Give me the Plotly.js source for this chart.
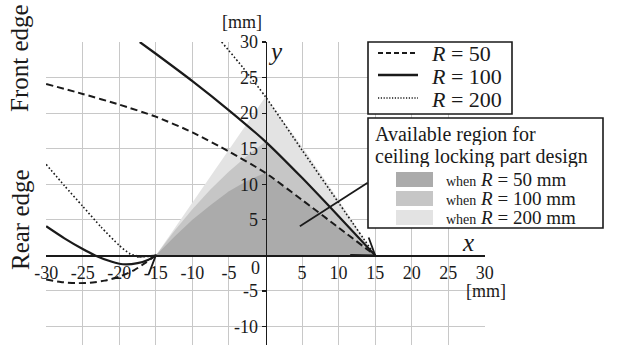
<!DOCTYPE html>
<html>
<head>
<meta charset="utf-8">
<script src="https://cdn.plot.ly/plotly-3.0.1.min.js"></script>
<style>html,body{margin:0;padding:0;background:#fff;}#chart{width:624px;height:348px;}</style>
</head>
<body>
<div id="chart"></div>
<script>
// ---- data ----
const xTickVals = [-30,-25,-20,-15,-10,-5,5,10,15,20,25,30];
const xTickText = ["-30","-25","-20","-15","-10","-5","5","10","15","20","25","30"];
const yTickVals = [-10,-5,5,10,15,20,25,30];
const yTickText = ["-10","-5","5","10","15","20","25","30"];

// front-edge curves
const r50FrontX  = [-30,-25,-20,-15,-10,-5,0,5,10,15];
const r50FrontY  = [24.1,22.7,21.2,19.5,17.3,14.6,11.6,7.8,3.9,0];
const r100FrontX = [-17.2,-15,-10,-5,0,5,10,15];
const r100FrontY = [30,28.35,24.5,20.4,16.0,10.9,5.5,0];
const r200FrontX = [-6.0,-3,0,5,10,15];
const r200FrontY = [30,26.3,22.3,14.8,7.4,0];

// rear-edge curves
const r50RearX  = [-30,-28,-26,-24,-22,-20,-18,-16.5,-15];
const r50RearY  = [-3.4,-3.75,-3.9,-3.85,-3.55,-3.0,-2.1,-1.1,0];
const r100RearX = [-30,-27.5,-25,-23.3,-21,-19.5,-17.5,-16,-15];
const r100RearY = [4.1,2.4,0.9,0,-0.9,-1.25,-1.1,-0.6,0];
const r200RearX = [-30,-27.5,-25,-22.5,-20,-18.5,-16.7,-15];
const r200RearY = [12.8,9.8,6.9,4.0,1.4,0.2,-0.2,0];

// available regions (polygons)
const reg50X  = [-15,-12.5,-10,-7.5,-5,-2.5,0,5,10,15];
const reg50Y  = [0,2.6,5.0,7.1,9.0,10.5,11.6,7.8,3.9,0];
const reg100X = [-15,-12.5,-10,-7.5,-5,-2.5,0,5,10,15];
const reg100Y = [0,3.4,6.5,9.3,11.8,14.0,16.0,10.9,5.5,0];
const reg200X = [-15,-10,-5,0,5,10,15];
const reg200Y = [0,7.4,14.8,22.3,15.3,7.8,0];

const seriesNames = ["R = 50","R = 100","R = 200"];
const regionColors = ["#ababab","#c6c6c6","#e3e3e3"];
const lineColor = "#1a1a1a";
const dash50 = "7px,4px";
const dot200 = "1.6px,2.2px";

// ---- layout geometry ----
const W=624, H=348, ML=46, MR=139, MT=42, MB=3;
const PW=W-ML-MR, PH=H-MT-MB;
const XR=[-30,30], YR=[-12.6,30];
const sx = PW/(XR[1]-XR[0]), sy = PH/(YR[1]-YR[0]);
const px = p => (p-ML)/PW;
const py = p => (H-MB-p)/PH;
const serif = "Liberation Serif";

// arrow barbs computed from curve end direction
function barbs(xs, ys, tipIdx, nbIdx, specs){
  const xt=xs[tipIdx], yt=ys[tipIdx];
  const dx=(xs[nbIdx]-xt)*sx, dy=-(ys[nbIdx]-yt)*sy;
  const a=Math.atan2(dy,dx);
  const bx=[], by=[];
  specs.forEach((s,i)=>{
    const ang=a+s[0]*Math.PI/180;
    const ex=xt+Math.cos(ang)*s[1]/sx, ey=yt-Math.sin(ang)*s[1]/sy;
    if(i===0){bx.push(ex,xt);by.push(ey,yt);} else {bx.push(ex);by.push(ey);}
  });
  return {x:bx,y:by};
}
const bR = barbs(r100FrontX, r100FrontY, r100FrontX.length-1, r100FrontX.length-2, [[-46,25],[23,19]]);
const bL = barbs(r100RearX, r100RearY, r100RearX.length-1, r100RearX.length-2, [[26,19],[-39,20]]);

function region(x,y,c){return {x:x,y:y,type:'scatter',mode:'lines',fill:'toself',fillcolor:c,line:{width:0},hoverinfo:'skip',showlegend:false};}
function curve(x,y,dash,w){return {x:x,y:y,type:'scatter',mode:'lines',line:{color:lineColor,width:w,dash:dash,shape:'spline',smoothing:0.6},showlegend:false,hoverinfo:'skip'};}

const data = [
  region(reg200X,reg200Y,regionColors[2]),
  region(reg100X,reg100Y,regionColors[1]),
  region(reg50X,reg50Y,regionColors[0]),
  curve(r50FrontX,r50FrontY,dash50,2),
  curve(r100FrontX,r100FrontY,'solid',2.2),
  curve(r200FrontX,r200FrontY,dot200,1.6),
  curve(r50RearX,r50RearY,dash50,2),
  curve(r100RearX,r100RearY,'solid',2.2),
  curve(r200RearX,r200RearY,dot200,1.6),
  {x:bR.x,y:bR.y,type:'scatter',mode:'lines',line:{color:lineColor,width:1.8},showlegend:false,hoverinfo:'skip'},
  {x:bL.x,y:bL.y,type:'scatter',mode:'lines',line:{color:lineColor,width:1.8},showlegend:false,hoverinfo:'skip'}
];

function ann(text,x,y,size,opts){
  return Object.assign({text:text,x:px(x),y:py(y),xref:'paper',yref:'paper',showarrow:false,
    font:{family:serif,size:size,color:'#1a1a1a'},xanchor:'center',yanchor:'middle'},opts||{});
}

const annotations = [
  ann('Front edge',20,58,25,{textangle:-90}),
  ann('Rear edge',20,220,25,{textangle:-90}),
  ann('[mm]',242,22,18,{height:18}),
  ann('<i>y</i>',275,52,25),
  ann('<i>x</i>',468,243,25),
  ann('[mm]',486,291,18),
  ann('0',255,268,18),
  // legend 1
  ann('<i>R</i> = 50',429,53,22,{xanchor:'left',height:22}),
  ann('<i>R</i> = 100',429,76,22,{xanchor:'left',height:22}),
  ann('<i>R</i> = 200',429,99,22,{xanchor:'left',height:22}),
  // legend 2
  ann('Available region for',373,134,20,{xanchor:'left',height:21}),
  ann('ceiling locking part design',373,156,20,{xanchor:'left',height:21}),
  ann('<span style="font-size:14px">when</span> <i>R</i> = 50 mm',444,179,19,{xanchor:'left',height:18}),
  ann('<span style="font-size:14px">when</span> <i>R</i> = 100 mm',444,198,19,{xanchor:'left',height:18}),
  ann('<span style="font-size:14px">when</span> <i>R</i> = 200 mm',444,217,19,{xanchor:'left',height:18})
];

function rectPx(x0,y0,x1,y1,fill,lw){
  return {type:'rect',xref:'paper',yref:'paper',x0:px(x0),x1:px(x1),y0:py(y1),y1:py(y0),
    fillcolor:fill,line:{color:lw?'#1a1a1a':'rgba(0,0,0,0)',width:lw||0},layer:'above'};
}
function linePx(x0,x1,y,dash,w){
  return {type:'line',xref:'paper',yref:'paper',x0:px(x0),x1:px(x1),y0:py(y),y1:py(y),
    line:{color:lineColor,width:w,dash:dash},layer:'above'};
}

const shapes = [
  // pointer from legend box to region
  {type:'line',xref:'x',yref:'y',x0:4.7,y0:4.1,x1:13.97,y1:10.2,line:{color:lineColor,width:1.8},layer:'above'},
  rectPx(368,42,512,114,'#ffffff',1.6),
  linePx(378,418,53,'5px,3px',2),
  linePx(378,418,75,'solid',2.4),
  linePx(378,418,98,'1.2px,1.6px',1.4),
  rectPx(368,118,603,228,'#ffffff',1.6),
  rectPx(396,172,433,187,regionColors[0],0),
  rectPx(396,191,433,206,regionColors[1],0),
  rectPx(396,210,433,225,regionColors[2],0)
];

const layout = {
  width:W,height:H,
  margin:{l:ML,r:MR,t:MT,b:MB,pad:0},
  paper_bgcolor:'#fff',plot_bgcolor:'#fff',
  showlegend:false,
  font:{family:serif,color:'#1a1a1a'},
  xaxis:{range:[XR[0]-0.02,XR[1]+0.02],anchor:'free',position:(0-YR[0])/(YR[1]-YR[0]),
    showline:true,linecolor:'#1a1a1a',linewidth:1.6,zeroline:false,
    showgrid:true,gridcolor:'#c8c8c8',gridwidth:1,
    tickmode:'array',tickvals:xTickVals,ticktext:xTickText,ticks:'',
    tickfont:{family:serif,size:18,color:'#1a1a1a'},layer:'above traces',fixedrange:true},
  yaxis:{range:YR,anchor:'free',position:0.5,
    showline:true,linecolor:'#1a1a1a',linewidth:1.6,zeroline:false,
    showgrid:true,gridcolor:'#c8c8c8',gridwidth:1,
    tickmode:'array',tickvals:yTickVals,ticktext:yTickText,ticks:'outside',ticklen:4,tickcolor:'#1a1a1a',tickwidth:1.2,
    tickfont:{family:serif,size:18,color:'#1a1a1a'},layer:'above traces',fixedrange:true},
  shapes:shapes,
  annotations:annotations
};

Plotly.newPlot('chart',data,layout,{staticPlot:true,displayModeBar:false});
</script>
</body>
</html>
